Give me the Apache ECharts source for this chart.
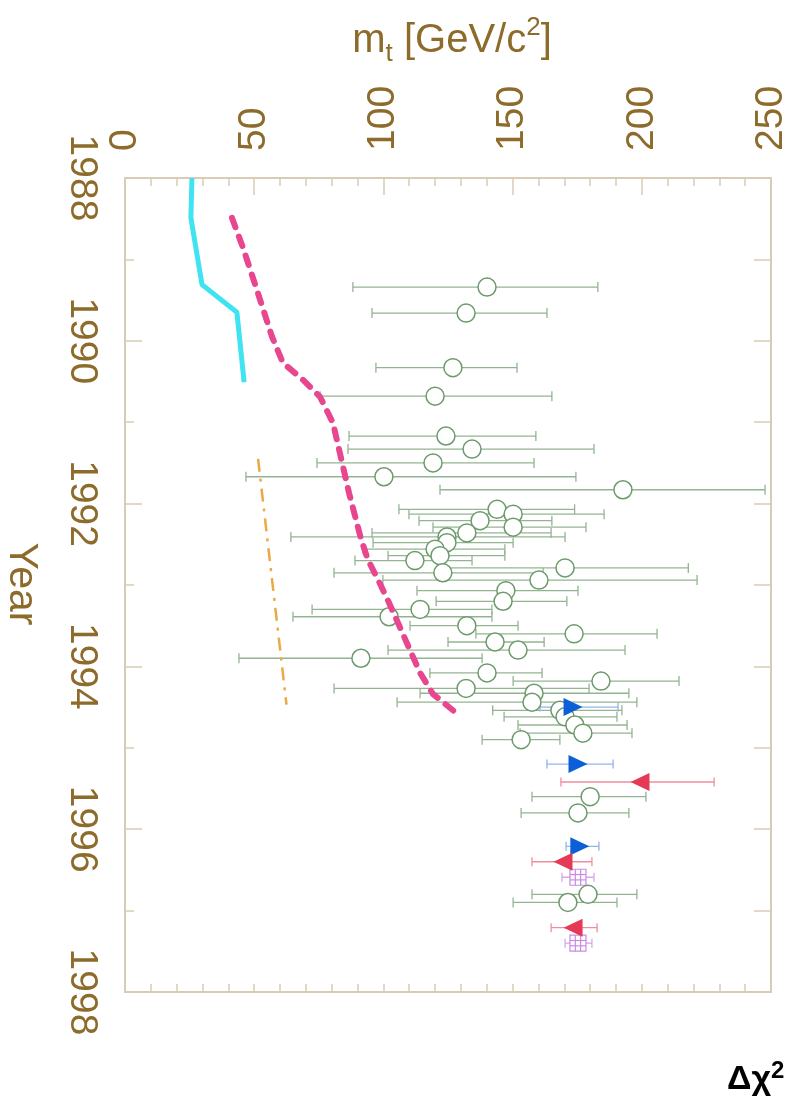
<!DOCTYPE html>
<html><head><meta charset="utf-8">
<script src="https://cdn.jsdelivr.net/npm/echarts@6/dist/echarts.min.js"></script>
<style>html,body{margin:0;padding:0;background:#fff}#c{width:803px;height:1105px}</style>
</head><body><div id="c"></div>
<script>
// ---------- data ----------
const mtTicks = [0, 50, 100, 150, 200, 250];
const yearTicks = [1988, 1990, 1992, 1994, 1996, 1998];

// open circles (measurements)
const circleYear = [1989.34,1989.66,1990.33,1990.68,1991.17,1991.33,1991.50,1991.67,1991.83,
  1992.07,1992.13,1992.21,1992.29,1992.36,1992.41,1992.48,1992.56,1992.64,1992.70,1992.79,1992.85,1992.94,
  1993.07,1993.20,1993.30,1993.39,1993.50,1993.60,1993.70,1993.80,1993.90,
  1994.08,1994.18,1994.27,1994.33,1994.44,1994.54,1994.62,1994.72,1994.82,1994.90,
  1995.60,1995.80,1996.80,1996.90];
const circleMt = [140.1,132.0,126.9,120.0,124.2,134.3,119.2,100.2,192.7,
  144.0,150.2,137.4,150.2,132.3,124.6,124.6,120.0,121.9,112.2,170.3,123.0,160.2,
  147.4,146.3,114.2,102.2,132.3,173.8,143.2,152.1,91.3,
  140.1,184.2,132.0,158.3,157.5,168.3,170.3,174.1,177.2,153.3,
  180.0,175.3,179.2,171.4];
const circleLow = [88.2,95.6,97.1,75.5,86.7,86.3,74.3,46.8,121.9,
  106.0,109.9,113.8,119.2,95.6,64.2,96.0,92.1,101.8,89.0,122.0,80.9,99.8,
  113.0,120.4,72.4,65.0,110.3,135.8,125.0,101.8,44.1,
  118.0,150.2,80.9,114.2,105.3,142.3,146.7,152.1,152.9,138.2,
  157.5,153.3,157.5,150.2];
const circleHigh = [183.0,163.3,151.7,165.2,159.0,181.5,158.3,174.5,247.7,
  174.0,185.4,165.2,178.4,164.9,170.3,150.2,147.0,147.0,134.3,218.0,161.8,221.4,
  175.3,171.0,142.0,142.0,152.1,205.9,162.2,193.5,138.2,
  161.4,214.4,179.6,195.0,198.1,192.3,190.4,194.3,196.2,168.3,
  201.6,195.0,198.1,190.4];

// blue right-pointing triangles
const blueYear = [1994.50, 1995.20, 1996.21];
const blueMt = [173.4, 175.3, 176.0];
const blueLow = [160.6, 163.3, 170.7];
const blueHigh = [190.8, 188.9, 183.4];

// red left-pointing triangles
const redYear = [1995.42, 1996.40, 1997.21];
const redMt = [199.3, 169.5, 173.4];
const redLow = [168.7, 157.5, 164.9];
const redHigh = [228.0, 180.7, 182.7];

// hatched squares
const sqYear = [1996.59, 1997.40];
const sqMt = [175.3, 175.3];
const sqLow = [169.1, 170.3];
const sqHigh = [181.5, 180.7];

// curves
const cyanYear = [1988.0, 1988.49, 1989.31, 1989.65, 1990.51];
const cyanMt = [25.9, 25.5, 29.8, 43.3, 46.1];
const pinkYear = [1988.49,1988.86,1989.38,1989.95,1990.27,1990.48,1990.69,1991.01,1991.87,1992.43,1992.69,1992.96,1993.22,1993.52,1993.80,1994.08,1994.34,1994.58];
const pinkMt = [41.4,45.7,51.1,56.9,61.1,68.9,75.5,80.5,86.7,91.3,94.0,98.3,102.2,106.4,110.3,114.2,119.2,128.5];
const orangeYear = [1991.45, 1994.47];
const orangeMt = [51.5, 62.5];

// ---------- chart ----------
const TXT = '#8c6b2b';
const FRAME = '#d8ccb4';
const FONT = '"Liberation Sans", Arial, sans-serif';

function pairs(xs, ys) { return xs.map((x, i) => [x, ys[i]]); }
function errData(lo, hi, yr) { return lo.map((l, i) => [l, hi[i], yr[i]]); }

function errSeries(lo, hi, yr, color, cap) {
  return {
    type: 'custom', coordinateSystem: 'cartesian2d', xAxisIndex: 0, yAxisIndex: 0,
    data: errData(lo, hi, yr), encode: { x: [0, 1], y: 2 }, silent: true,
    renderItem: function (params, api) {
      const a = api.coord([api.value(0), api.value(2)]);
      const b = api.coord([api.value(1), api.value(2)]);
      const st = { stroke: color, lineWidth: 1.3, fill: null };
      return { type: 'group', children: [
        { type: 'line', shape: { x1: a[0], y1: a[1], x2: b[0], y2: b[1] }, style: st },
        { type: 'line', shape: { x1: a[0], y1: a[1] - cap / 2, x2: a[0], y2: a[1] + cap / 2 }, style: st },
        { type: 'line', shape: { x1: b[0], y1: b[1] - cap / 2, x2: b[0], y2: b[1] + cap / 2 }, style: st }
      ]};
    }
  };
}

const axisLineStyle = { color: FRAME, width: 2 };
const plain = function (v) { return String(v); };

const option = {
  animation: false,
  backgroundColor: '#ffffff',
  grid: { left: 125, top: 178, width: 646, height: 814, outerBoundsMode: 'none', containLabel: false },
  xAxis: [
    { type: 'value', position: 'top', min: mtTicks[0], max: mtTicks[mtTicks.length - 1], interval: mtTicks[1] - mtTicks[0],
      axisLine: { show: true, onZero: false, lineStyle: axisLineStyle },
      axisTick: { show: true, inside: true, length: 17, lineStyle: { color: FRAME, width: 1.5 } },
      minorTick: { show: true, splitNumber: 5, length: 8, lineStyle: { color: FRAME, width: 1.5 } },
      splitLine: { show: false },
      axisLabel: { rotate: -90, fontSize: 39, color: TXT, fontFamily: FONT, margin: 27, formatter: plain, showMinLabel: true, showMaxLabel: true }
    },
    { type: 'value', position: 'bottom', min: mtTicks[0], max: mtTicks[mtTicks.length - 1], interval: mtTicks[1] - mtTicks[0],
      axisLine: { show: true, onZero: false, lineStyle: axisLineStyle },
      axisTick: { show: true, inside: true, length: 8, lineStyle: { color: FRAME, width: 1.5 } },
      minorTick: { show: true, splitNumber: 5, length: 8, lineStyle: { color: FRAME, width: 1.5 } },
      splitLine: { show: false }, axisLabel: { show: false }
    }
  ],
  yAxis: [
    { type: 'value', position: 'left', inverse: true, min: yearTicks[0], max: yearTicks[yearTicks.length - 1], interval: yearTicks[1] - yearTicks[0],
      axisLine: { show: true, onZero: false, lineStyle: axisLineStyle },
      axisTick: { show: true, inside: true, length: 17, lineStyle: { color: FRAME, width: 1.5 } },
      minorTick: { show: true, splitNumber: 2, length: 9, lineStyle: { color: FRAME, width: 1.5 } },
      splitLine: { show: false },
      axisLabel: { rotate: -90, fontSize: 39, color: TXT, fontFamily: FONT, margin: 24, formatter: plain, showMinLabel: true, showMaxLabel: true }
    },
    { type: 'value', position: 'right', inverse: true, min: yearTicks[0], max: yearTicks[yearTicks.length - 1], interval: 1,
      axisLine: { show: true, onZero: false, lineStyle: axisLineStyle },
      axisTick: { show: true, inside: true, length: 17, lineStyle: { color: FRAME, width: 1.5 } },
      splitLine: { show: false }, axisLabel: { show: false }
    }
  ],
  graphic: [
    { type: 'text', x: 452, y: 41, silent: true,
      style: { text: '{m|m}{s|t}{m| [GeV/c}{p|2}{m|]}', align: 'center', verticalAlign: 'middle', fill: TXT,
        rich: {
          m: { fontSize: 40, lineHeight: 52, fontFamily: FONT, fill: TXT },
          s: { fontSize: 26, lineHeight: 26, verticalAlign: 'bottom', fontFamily: FONT, fill: TXT },
          p: { fontSize: 26, lineHeight: 30, verticalAlign: 'top', fontFamily: FONT, fill: TXT }
        } } },
    { type: 'text', x: 21, y: 584, rotation: -Math.PI / 2, silent: true,
      style: { text: 'Year', align: 'center', verticalAlign: 'middle', fill: TXT, fontSize: 41, fontFamily: FONT } },
    { type: 'text', x: 727, y: 1080, silent: true,
      style: { text: '{m|Δχ}{p|2}', align: 'left', verticalAlign: 'middle', fill: '#000',
        rich: {
          m: { fontSize: 34, fontWeight: 'bold', lineHeight: 42, fontFamily: FONT, fill: '#000' },
          p: { fontSize: 24, fontWeight: 'bold', lineHeight: 24, verticalAlign: 'top', fontFamily: FONT, fill: '#000' }
        } } }
  ],
  series: [
    { type: 'line', data: pairs(cyanMt, cyanYear), showSymbol: false, symbol: 'none', silent: true,
      lineStyle: { color: '#3fe3f2', width: 5 } },
    { type: 'line', data: pairs(pinkMt, pinkYear), showSymbol: false, symbol: 'none', silent: true,
      lineStyle: { color: '#e8468f', width: 6, type: [10, 10], cap: 'round' } },
    { type: 'line', data: pairs(orangeMt, orangeYear), showSymbol: false, symbol: 'none', silent: true,
      lineStyle: { color: '#e9a944', width: 2.5, type: [13, 7, 3, 7] } },
    errSeries(circleLow, circleHigh, circleYear, '#93b492', 10),
    errSeries(blueLow, blueHigh, blueYear, '#93b3ec', 9),
    errSeries(redLow, redHigh, redYear, '#f08e9e', 9),
    errSeries(sqLow, sqHigh, sqYear, '#d8a8ee', 9),
    { type: 'scatter', data: pairs(circleMt, circleYear), symbol: 'circle', symbolSize: 18, silent: true,
      itemStyle: { color: '#ffffff', borderColor: '#6d9a6c', borderWidth: 1.5, opacity: 1 } },
    { type: 'scatter', data: pairs(blueMt, blueYear), symbol: 'triangle', symbolSize: [18, 19], symbolRotate: -90, silent: true,
      itemStyle: { color: '#0c5fd6', opacity: 1 } },
    { type: 'scatter', data: pairs(redMt, redYear), symbol: 'triangle', symbolSize: [18, 19], symbolRotate: 90, silent: true,
      itemStyle: { color: '#e43a55', opacity: 1 } },
    { type: 'custom', coordinateSystem: 'cartesian2d', xAxisIndex: 0, yAxisIndex: 0, silent: true,
      data: pairs(sqMt, sqYear),
      renderItem: function (params, api) {
        const c = api.coord([api.value(0), api.value(1)]);
        const h = 8, st = { stroke: '#c88ae6', lineWidth: 1.2, fill: null };
        const ch = [{ type: 'rect', shape: { x: c[0] - h, y: c[1] - h, width: 2 * h, height: 2 * h }, style: { stroke: '#c88ae6', lineWidth: 1.2, fill: '#fff' } }];
        [-h / 3, h / 3].forEach(function (d) {
          ch.push({ type: 'line', shape: { x1: c[0] + d, y1: c[1] - h, x2: c[0] + d, y2: c[1] + h }, style: st });
          ch.push({ type: 'line', shape: { x1: c[0] - h, y1: c[1] + d, x2: c[0] + h, y2: c[1] + d }, style: st });
        });
        return { type: 'group', children: ch };
      }
    }
  ]
};

const chart = echarts.init(document.getElementById('c'), null, { renderer: 'canvas' });
chart.setOption(option);
</script>
</body></html>
